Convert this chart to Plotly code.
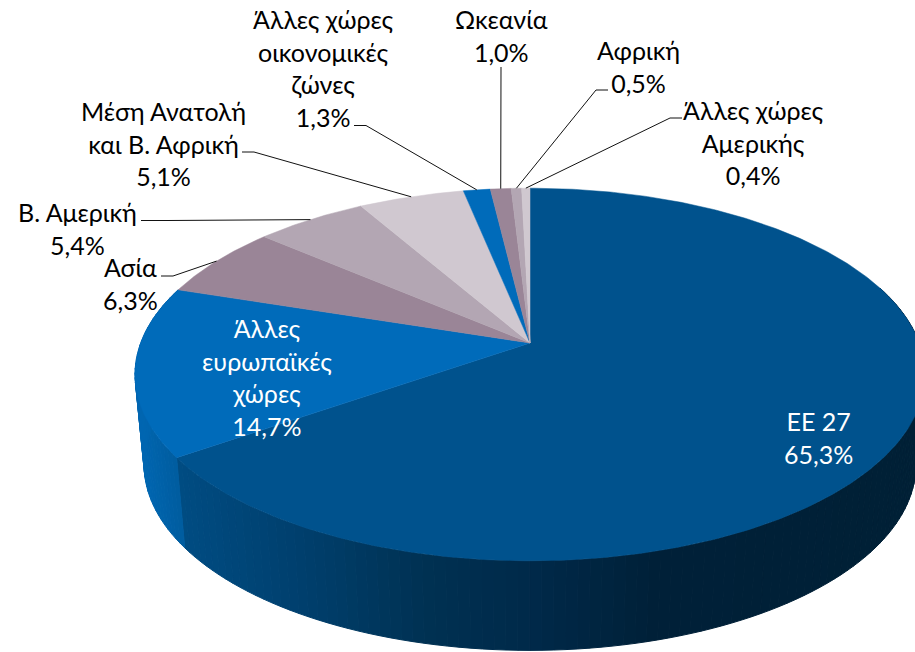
import numpy as np
import plotly.graph_objects as go

# ---- data ----
categories = ["ΕΕ 27", "Άλλες<br>ευρωπαϊκές<br>χώρες", "Ασία", "Β. Αμερική",
              "Μέση Ανατολή<br>και Β. Αφρική", "Άλλες χώρες<br>οικονομικές<br>ζώνες",
              "Ωκεανία", "Αφρική", "Άλλες χώρες<br>Αμερικής"]
values = [65.3, 14.7, 6.3, 5.4, 5.1, 1.3, 1.0, 0.5, 0.4]
slice_colors = ["#00528D", "#006BBA", "#9A8597", "#B3A6B3", "#D0C8D0",
                "#006BBA", "#9A8597", "#B3A6B3", "#D0C8D0"]

# ---- layout / perspective constants (pixels) ----
W, H = 915, 652
CX, APEX_Y = 530.0, 343.0
A, B, T = 389.3, 181.0, 0.169      # perspective disc
TOP_CY, BOT_CY = 374.5, 465.0      # centres of top/bottom rims
SX, SY = 0.977, 0.995              # bottom rim scale
FONT = "Lato, 'Open Sans', sans-serif"
FS = 25

def top(p):
    """Percent clockwise from 12 o'clock -> screen position on the top rim."""
    th = np.asarray(p, float) * 2 * np.pi / 100
    X, Y = np.sin(th), np.cos(th)
    w = 1 + T * Y
    return CX + A * X / w, APEX_Y - B * Y / w

def bottom(p):
    x, y = top(p)
    return CX + SX * (x - CX), BOT_CY + SY * (y - TOP_CY)

def mix(c1, c2, f):
    a = np.array(c1, float); b = np.array(c2, float)
    r = a + (b - a) * min(max(f, 0), 1)
    return "rgb(%d,%d,%d)" % tuple(r)

def wall_color(x, idx):
    if idx == 1:
        return mix((0, 104, 180), (0, 92, 158), (x - 135) / 50)
    stops = [(185, (0, 76, 130)), (300, (0, 64, 110)), (430, (0, 49, 82)),
             (530, (0, 42, 74)), (650, (0, 33, 57)), (915, (0, 32, 54))]
    for (x0, c0), (x1, c1) in zip(stops, stops[1:]):
        if x <= x1:
            return mix(c0, c1, (x - x0) / (x1 - x0))
    return mix(stops[-1][1], stops[-1][1], 0)

fig = go.Figure()
cum = np.concatenate([[0], np.cumsum(values)])
cum = cum / cum[-1] * 100

# side wall of the two slices that face the viewer
for idx in (0, 1):
    grid = np.linspace(cum[idx], cum[idx + 1], 3 + int(values[idx] * 2.4))
    for p0, p1 in zip(grid[:-1], grid[1:]):
        x0, y0 = top(p0); x1, y1 = top(p1)
        bx0, by0 = bottom(p0); bx1, by1 = bottom(p1)
        if idx == 0 and p1 < 20:
            continue
        c = wall_color((x0 + x1 + bx0 + bx1) / 4, idx)
        fig.add_trace(go.Scatter(x=[x0, x1, bx1, bx0, x0], y=[y0, y1, by1, by0, y0],
                                 mode="lines", fill="toself", fillcolor=c,
                                 line=dict(color=c, width=1), hoverinfo="skip",
                                 showlegend=False))

# top face
for i, col in enumerate(slice_colors):
    ps = np.linspace(cum[i], cum[i + 1], max(3, int(values[i] * 6)))
    x, y = top(ps)
    fig.add_trace(go.Scatter(x=np.r_[CX, x, CX], y=np.r_[APEX_Y, y, APEX_Y],
                             mode="lines", fill="toself", fillcolor=col,
                             line=dict(color=col, width=0.5),
                             name=categories[i].replace("<br>", " "),
                             showlegend=False))

# leader lines: label side elbow (pixels) -> middle of the slice's arc
leaders = {
    2: [(161, 276), (173, 276)],
    3: [(141, 220.5), (168, 220.5)],
    4: [(242, 152), (254, 152)],
    5: [(354, 125.5), (366, 125.5)],
    6: [(501, 67)],
    7: [(608, 90), (596, 90)],
    8: [(682, 118), (670, 118)],
}
for i, pts in leaders.items():
    ex, ey = top((cum[i] + cum[i + 1]) / 2)
    xs = [q[0] for q in pts] + [float(ex)]
    ys = [q[1] for q in pts] + [float(ey)]
    fig.add_trace(go.Scatter(x=xs, y=ys, mode="lines", hoverinfo="skip",
                             line=dict(color="#111111", width=1), showlegend=False))

# data labels: centre x, y of the block's middle (pixels)
label_pos = {0: (818, 437, "white"), 1: (267, 377, "white"), 2: (130, 283, "#000"),
             3: (77, 228, "#000"), 4: (163, 143, "#000"), 5: (323, 68, "#000"),
             6: (501, 35, "#000"), 7: (638, 66, "#000"), 8: (753, 142, "#000")}
for i, (lx, ly, col) in label_pos.items():
    txt = "%s<br>%s%%" % (categories[i], ("%.1f" % values[i]).replace(".", ","))
    fig.add_annotation(x=lx, y=ly, text=txt, showarrow=False, xanchor="center", yanchor="middle",
                       align="center", font=dict(family=FONT, size=FS, color=col))

fig.update_xaxes(range=[0, W], visible=False, fixedrange=True)
fig.update_yaxes(range=[H, 0], visible=False, fixedrange=True)
fig.update_layout(width=W, height=H, margin=dict(l=0, r=0, t=0, b=0),
                  paper_bgcolor="white", plot_bgcolor="white", showlegend=False)
fig.write_html("out.html", config={"displayModeBar": False},
               post_script="document.body.style.margin='0';document.documentElement.style.overflow='hidden';")
